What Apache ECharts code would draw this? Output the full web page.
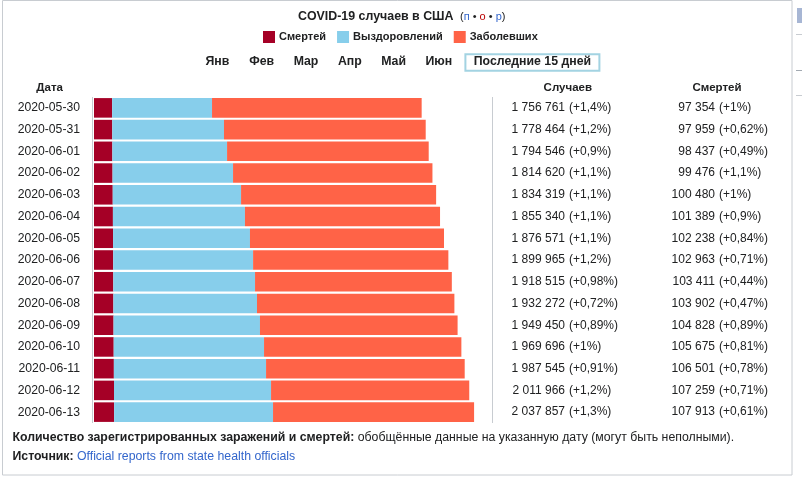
<!DOCTYPE html>
<html>
<head>
<meta charset="utf-8">
<script src="https://cdn.jsdelivr.net/npm/echarts@6/dist/echarts.min.js"></script>
<style>
html,body{margin:0;padding:0;background:#fff;}
#chart{width:802px;height:478px;}
</style>
</head>
<body>
<div id="chart"></div>
<script>
const dates = ['2020-05-30','2020-05-31','2020-06-01','2020-06-02','2020-06-03','2020-06-04','2020-06-05','2020-06-06','2020-06-07','2020-06-08','2020-06-09','2020-06-10','2020-06-11','2020-06-12','2020-06-13'];
const cases = [1756761,1778464,1794546,1814620,1834319,1855340,1876571,1899965,1918515,1932272,1949450,1969696,1987545,2011966,2037857];
const casesPct = [1.4,1.2,0.9,1.1,1.1,1.1,1.1,1.2,0.98,0.72,0.89,1,0.91,1.2,1.3];
const deaths = [97354,97959,98437,99476,100480,101389,102238,102963,103411,103902,104828,105675,106501,107259,107913];
const deathsPct = [1,0.62,0.49,1.1,1,0.9,0.84,0.71,0.44,0.47,0.89,0.81,0.78,0.71,0.61];
const recovered = [535500,599000,615000,646000,688000,708000,734000,750000,760000,770000,785000,806000,816000,842000,852000];
const legendNames = ['Смертей','Выздоровлений','Заболевших'];
const months = ['Янв','Фев','Мар','Апр','Май','Июн'];
const lastDaysLabel = 'Последние 15 дней';
const headers = ['Дата','Случаев','Смертей'];

const active = cases.map((c,i)=>c-deaths[i]-recovered[i]);
const fmtNum = n => String(n).replace(/\B(?=(\d{3})+(?!\d))/g,' ');
const fmtPct = p => '(+' + String(p).replace('.',',') + '%)';

const FF = '"Liberation Sans", Arial, sans-serif';
const TXT = '#202122';
const colors = ['#a50026','#87ceeb','#ff6347'];

const chart = echarts.init(document.getElementById('chart'), null, {renderer:'canvas'});

function col(data, offset, align){
  return {type:'category', data:data, inverse:true, position:'right', offset:offset,
    axisLine:{show:false}, axisTick:{show:false}, splitLine:{show:false},
    axisLabel:{margin:0, align:align, interval:0, fontSize:12, color:TXT, fontFamily:FF}};
}

const monthX = [217.3,261.6,306,349.8,393.6,438.8];
const graphics = [
  {type:'rect', shape:{x:2.5,y:0.5,width:789.5,height:474.5}, style:{fill:'none', stroke:'#c8ccd1', lineWidth:1}},
  {type:'rect', shape:{x:797,y:8,width:6,height:15}, style:{fill:'#a7b6d4'}},
  {type:'line', shape:{x1:796,y1:34.5,x2:802,y2:34.5}, style:{stroke:'#c8ccd1', lineWidth:1}},
  {type:'line', shape:{x1:796,y1:70.5,x2:802,y2:70.5}, style:{stroke:'#a2a9b1', lineWidth:1}},
  {type:'line', shape:{x1:796,y1:95.5,x2:802,y2:95.5}, style:{stroke:'#c8ccd1', lineWidth:1}},
  {type:'text', x:298, y:16.5, style:{text:'COVID-19 случаев в США', font:'bold 12.4px '+FF, fill:TXT, align:'left', verticalAlign:'middle'}},
  {type:'text', x:460, y:17, style:{
    text:'{k|(}{b|п}{d| • }{r|о}{d| • }{b|р}{k|)}', align:'left', verticalAlign:'middle',
    rich:{k:{font:'11px '+FF, fill:TXT}, b:{font:'11px '+FF, fill:'#3366cc'}, r:{font:'11px '+FF, fill:'#ba0000'}, d:{font:'11px '+FF, fill:TXT}}
  }},
  {type:'rect', shape:{x:465.4,y:54.3,width:134,height:16.4}, style:{fill:'none', stroke:'#a3d3e2', lineWidth:2}},
  {type:'text', x:532.4, y:62, style:{text:lastDaysLabel, font:'bold 12.3px '+FF, fill:TXT, align:'center', verticalAlign:'middle'}},
  {type:'text', x:49.6, y:88, style:{text:headers[0], font:'bold 11.5px '+FF, fill:TXT, align:'center', verticalAlign:'middle'}},
  {type:'text', x:567.8, y:88, style:{text:headers[1], font:'bold 11.5px '+FF, fill:TXT, align:'center', verticalAlign:'middle'}},
  {type:'text', x:717, y:88, style:{text:headers[2], font:'bold 11.5px '+FF, fill:TXT, align:'center', verticalAlign:'middle'}},
  {type:'line', shape:{x1:92.5,y1:97,x2:92.5,y2:423}, style:{stroke:'#c8ccd1', lineWidth:1}},
  {type:'line', shape:{x1:492.5,y1:97,x2:492.5,y2:423}, style:{stroke:'#c8ccd1', lineWidth:1}},
  {type:'text', x:12.5, y:437.5, style:{
    text:'{b|Количество зарегистрированных заражений и смертей:} {n|обобщённые данные на указанную дату (могут быть неполными).}',
    align:'left', verticalAlign:'middle',
    rich:{b:{font:'bold 12.3px '+FF, fill:TXT}, n:{font:'12.3px '+FF, fill:TXT}}
  }},
  {type:'text', x:12.5, y:456.5, style:{
    text:'{b|Источник:} {l|Official reports from state health officials}',
    align:'left', verticalAlign:'middle',
    rich:{b:{font:'bold 12.3px '+FF, fill:TXT}, l:{font:'12.3px '+FF, fill:'#3366cc'}}
  }}
];
months.forEach((m,i)=>{
  graphics.push({type:'text', x:monthX[i], y:62, style:{text:m, font:'bold 12.3px '+FF, fill:TXT, align:'center', verticalAlign:'middle'}});
});

const option = {
  backgroundColor:'#ffffff',
  animation:false,
  legend:{
    data:legendNames, left:263, top:31, padding:0, itemWidth:12, itemHeight:12, itemGap:11,
    icon:'rect', selectedMode:false,
    textStyle:{fontWeight:'bold', fontSize:11, color:TXT, fontFamily:FF, padding:[0,0,0,-1]}
  },
  grid:{left:94, top:97, width:401, height:326, containLabel:false},
  xAxis:{type:'value', min:0, max:2150000, show:false},
  yAxis:[
    {type:'category', data:dates, inverse:true, axisLine:{show:false}, axisTick:{show:false}, splitLine:{show:false},
     axisLabel:{margin:14, interval:0, fontSize:12.2, color:TXT, fontFamily:FF}},
    col(cases.map(fmtNum), 70, 'right'),
    col(casesPct.map(fmtPct), 74, 'left'),
    col(deaths.map(fmtNum), 220, 'right'),
    col(deathsPct.map(fmtPct), 224, 'left')
  ],
  series:[
    {name:legendNames[0], type:'bar', stack:'t', data:deaths, itemStyle:{color:colors[0]}, barCategoryGap:'10%', silent:true},
    {name:legendNames[1], type:'bar', stack:'t', data:recovered, itemStyle:{color:colors[1]}, silent:true},
    {name:legendNames[2], type:'bar', stack:'t', data:active, itemStyle:{color:colors[2]}, silent:true}
  ],
  graphic:graphics
};
chart.setOption(option);
</script>
</body>
</html>
